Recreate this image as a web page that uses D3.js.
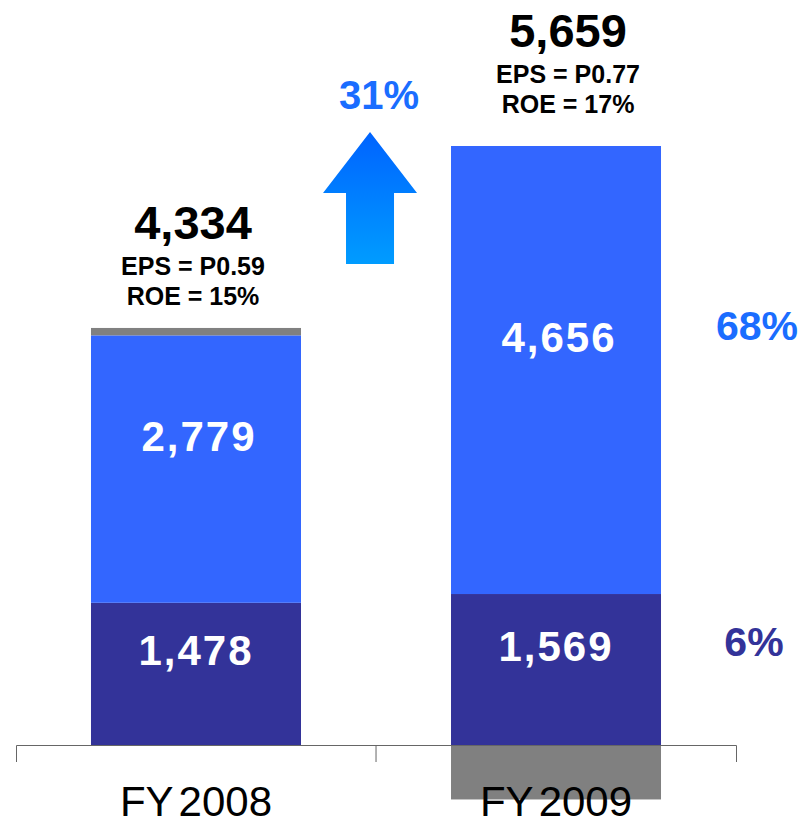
<!DOCTYPE html>
<html>
<head>
<meta charset="utf-8">
<script src="https://cdn.jsdelivr.net/npm/d3@7"></script>
<style>
  body { margin: 0; background: #fff; }
  svg text { font-family: "Liberation Sans", Arial, sans-serif; }
</style>
</head>
<body>
<div id="chart"></div>
<script>
var categories = ["FY2008", "FY2009"];
var baseValues = [1478, 1569];
var mainValues = [2779, 4656];
var otherValues = [77, -566];
var totals = [4334, 5659];
var epsLabels = ["EPS = P0.59", "EPS = P0.77"];
var roeLabels = ["ROE = 15%", "ROE = 17%"];
var growthLabel = "31%";
var mainShare = "68%";
var baseShare = "6%";

var width = 803, height = 821;

var svg = d3.select("#chart")
    .append("svg")
    .attr("width", width)
    .attr("height", height);

var data = categories.map(function (c, i) {
    return { cat: c, base: baseValues[i], main: mainValues[i], other: otherValues[i] };
});

var x = d3.scaleBand()
    .domain(categories)
    .range([16, 736])
    .paddingInner(0.4167)
    .paddingOuter(0.2083);

var y = d3.scaleLinear()
    .domain([0, 6225])
    .range([745, 146]);

var colors = { base: "#333399", main: "#3366ff", other: "#808080" };

var stack = d3.stack()
    .keys(["base", "main", "other"])
    .offset(d3.stackOffsetDiverging);

var series = stack(data);

// bars
svg.append("g")
    .selectAll("g")
    .data(series)
    .join("g")
    .attr("fill", function (s) { return colors[s.key]; })
    .selectAll("rect")
    .data(function (s) { return s; })
    .join("rect")
    .attr("x", function (d) { return x(d.data.cat); })
    .attr("width", x.bandwidth())
    .attr("y", function (d) { return y(Math.max(d[0], d[1])); })
    .attr("height", function (d) { return Math.abs(y(d[0]) - y(d[1])); });

// segment labels (baseline a bit above the segment middle)
var fmt = d3.format(",");
var segLabelShift = { base: [0, -9], main: [3, -18] };
["base", "main"].forEach(function (key) {
    var s = series.find(function (q) { return q.key === key; });
    svg.append("g")
        .selectAll("text")
        .data(s)
        .join("text")
        .attr("x", function (d) { return x(d.data.cat) + x.bandwidth() / 2 + segLabelShift[key][0]; })
        .attr("y", function (d) { return (y(d[0]) + y(d[1])) / 2 + segLabelShift[key][1]; })
        .attr("text-anchor", "middle")
        .attr("fill", "#fff")
        .attr("font-weight", "bold")
        .attr("font-size", 42)
        .attr("letter-spacing", 2)
        .text(function (d) { return fmt(d.data[key]); });
});

// axis
var axis = svg.append("g")
    .attr("transform", "translate(0," + y(0) + ")")
    .call(d3.axisBottom(x).tickSizeInner(0).tickSizeOuter(17).tickPadding(0));

axis.select(".domain").attr("stroke", "#666");
axis.selectAll(".tick text")
    .attr("y", 71)
    .attr("dy", null)
    .attr("font-size", 42)
    .attr("fill", "#000")
    .text(null)
    .each(function (d) {
        var t = d3.select(this);
        t.append("tspan").text(d.slice(0, 2));
        t.append("tspan").attr("dx", 5).text(d.slice(2));
    });

axis.append("line")
    .attr("x1", x.range()[0] + x.step())
    .attr("x2", x.range()[0] + x.step())
    .attr("y1", 0)
    .attr("y2", 17)
    .attr("stroke", "#666");

// total / EPS / ROE notes above each bar
var noteShift = [[-3, 0], [12, -10]];
var notes = svg.append("g")
    .selectAll("g")
    .data(data)
    .join("g")
    .attr("transform", function (d, i) {
        var top = y(d.base + d.main + Math.max(d.other, 0));
        return "translate(" + (x(d.cat) + x.bandwidth() / 2 + noteShift[i][0]) + "," + (top + noteShift[i][1]) + ")";
    })
    .attr("text-anchor", "middle")
    .attr("font-weight", "bold")
    .attr("fill", "#000");

notes.append("text")
    .attr("y", -89)
    .attr("font-size", 47)
    .text(function (d, i) { return fmt(totals[i]); });

notes.append("text")
    .attr("y", -53)
    .attr("font-size", 25)
    .text(function (d, i) { return epsLabels[i]; });

notes.append("text")
    .attr("y", -23)
    .attr("font-size", 25)
    .text(function (d, i) { return roeLabels[i]; });

// growth arrow
var grad = svg.append("defs").append("linearGradient")
    .attr("id", "arrowGrad")
    .attr("x1", 0).attr("y1", 0).attr("x2", 0).attr("y2", 1);
grad.append("stop").attr("offset", "0%").attr("stop-color", "#0063ff");
grad.append("stop").attr("offset", "100%").attr("stop-color", "#009cff");

var arrowX = x.range()[0] + x.step() - 6;
var arrowG = svg.append("g")
    .attr("transform", "translate(" + arrowX + "," + y(5000) + ")");

arrowG.append("path")
    .attr("d", "M0,-132 L47,-71 L24,-71 L24,0 L-24,0 L-24,-71 L-47,-71 Z")
    .attr("fill", "url(#arrowGrad)");

arrowG.append("text")
    .attr("x", 9)
    .attr("y", -155)
    .attr("text-anchor", "middle")
    .attr("font-weight", "bold")
    .attr("font-size", 40)
    .attr("fill", "#1a6dff")
    .text(growthLabel);

// share labels on the right of FY2009
var last = data.length - 1;
var mainSeg = series[1][last], baseSeg = series[0][last];
var shareX = x.range()[1] + 21;

svg.append("text")
    .attr("x", shareX)
    .attr("y", (y(mainSeg[0]) + y(mainSeg[1])) / 2 - 30)
    .attr("text-anchor", "middle")
    .attr("font-weight", "bold")
    .attr("font-size", 41)
    .attr("fill", "#1a6dff")
    .text(mainShare);

svg.append("text")
    .attr("x", shareX - 3)
    .attr("y", (y(baseSeg[0]) + y(baseSeg[1])) / 2 - 14)
    .attr("text-anchor", "middle")
    .attr("font-weight", "bold")
    .attr("font-size", 41)
    .attr("fill", "#333399")
    .text(baseShare);
</script>
</body>
</html>
